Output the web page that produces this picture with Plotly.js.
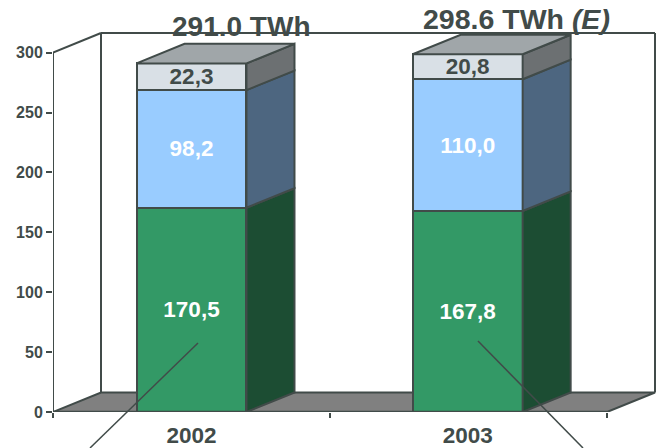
<!DOCTYPE html>
<html>
<head>
<meta charset="utf-8">
<script src="https://cdn.plot.ly/plotly-3.0.1.min.js"></script>
<style>html,body{margin:0;padding:0;background:#fff}#chart{width:660px;height:448px}</style>
</head>
<body>
<div id="chart"></div>
<script>
// Annual generation by source, stacked, in TWh
const years = ['2002', '2003'];
const bottomSeries = [170.5, 167.8];
const middleSeries = [98.2, 110.0];
const topSeries = [22.3, 20.8];
const totals = ['291.0 TWh', '298.6 TWh <i>(E)</i>'];
const yTicks = [0, 50, 100, 150, 200, 250, 300];

const INK = '#414b49';
const FONT = '"Liberation Sans", Arial, sans-serif';
const centers = [0.5, 1.497];
const BAR_W = 0.397;
const DX = 0.1733;   // depth of the pseudo-3D extrusion, x units
const DY = 16.3;     // depth of the pseudo-3D extrusion, y units
const PLOT_W = 604, PLOT_H = 381, PX_X = 277, PX_Y = 1.198, BASE_PX = 412;
const X_MAX = PLOT_W / PX_X, Y_MAX = PLOT_H / PX_Y, Y_TOP = 316.4;

const layers = [
  {values: bottomSeries, front: '#339966', side: '#1c4d33', text: '#ffffff'},
  {values: middleSeries, front: '#99ccff', side: '#4d6680', text: '#ffffff'},
  {values: topSeries,    front: '#d9e0e6', side: '#6c7072', text: INK}
];

const traces = [];

// Front faces of the stacks
layers.forEach(l => traces.push({
  type: 'bar', x: centers, y: l.values, width: BAR_W,
  marker: {color: l.front, line: {color: INK, width: 2}},
  text: l.values.map(v => v.toFixed(1).replace('.', ',')),
  textposition: 'inside', insidetextanchor: 'middle', textangle: 0,
  constraintext: 'none',
  insidetextfont: {family: FONT, size: 22.5, weight: 700, color: l.text},
  hoverinfo: 'skip'
}));

// Side and top faces, extruded from the stacked values
centers.forEach((c, i) => {
  const r = c + BAR_W / 2, lft = c - BAR_W / 2;
  let base = 0;
  layers.forEach(l => {
    const top = base + l.values[i];
    traces.push({
      type: 'scatter', mode: 'lines', fill: 'toself', fillcolor: l.side,
      x: [r, r + DX, r + DX, r, r],
      y: [base, base + DY, top + DY, top, base],
      line: {color: INK, width: 2}, hoverinfo: 'skip'
    });
    base = top;
  });
  traces.push({
    type: 'scatter', mode: 'lines', fill: 'toself', fillcolor: '#a0a6a9',
    x: [lft, lft + DX, r + DX, r, lft],
    y: [base, base + DY, base + DY, base, base],
    line: {color: INK, width: 2}, hoverinfo: 'skip'
  });
});

// Axis lines stop at the front plane, so they are drawn as traces
traces.push({type: 'scatter', mode: 'lines', x: [0, 0], y: [0, 300],
  line: {color: INK, width: 2}, hoverinfo: 'skip'});
traces.push({type: 'scatter', mode: 'lines', x: [0, 2], y: [0, 0],
  line: {color: INK, width: 2.5}, hoverinfo: 'skip', cliponaxis: false});

const edge = (x0, y0, x1, y1) => ({type: 'line', xref: 'x', yref: 'y', layer: 'below',
  x0, y0, x1, y1, line: {color: INK, width: 2}});

const paperX = px => (px - 53) / PLOT_W;
const paperY = py => (BASE_PX - py) / PLOT_H;

const shapes = [
  // Floor
  {type: 'path', xref: 'x', yref: 'y', layer: 'below', fillcolor: '#808080',
   path: `M0,0 L2,0 L${2 + DX},${DY} L${DX},${DY} Z`, line: {color: INK, width: 2}},
  // Back and side walls
  edge(DX, DY, DX, Y_TOP), edge(DX, Y_TOP, 2 + DX, Y_TOP), edge(2 + DX, Y_TOP, 2 + DX, DY),
  edge(0, 300, DX, Y_TOP),
  // Leader lines
  {type: 'line', xref: 'paper', yref: 'paper', x0: paperX(198), y0: paperY(343),
   x1: paperX(90), y1: paperY(448), line: {color: INK, width: 1.5}},
  {type: 'line', xref: 'paper', yref: 'paper', x0: paperX(478), y0: paperY(341),
   x1: paperX(583), y1: paperY(448), line: {color: INK, width: 1.5}}
];

const totalLabel = (text, xPx, yPx, size) => ({
  text, xref: 'paper', yref: 'paper', x: paperX(xPx), y: paperY(yPx), showarrow: false,
  xanchor: 'center', yanchor: 'middle',
  font: {family: FONT, size, weight: 700, color: INK}
});

const layout = {
  width: 660, height: 448, autosize: false,
  margin: {l: 53, r: 3, t: 31, b: 36, pad: 0},
  paper_bgcolor: '#ffffff', plot_bgcolor: '#ffffff',
  showlegend: false, barmode: 'stack',
  xaxis: {
    range: [0, X_MAX], showgrid: false, zeroline: false, showline: false,
    tickmode: 'array', tickvals: centers, ticktext: years, ticks: '',
    ticklabelstandoff: 7,
    tickfont: {family: FONT, size: 22.5, weight: 700, color: INK},
    minor: {tickmode: 'array', tickvals: [0, 1, 2], ticks: 'outside', ticklen: 5, tickwidth: 1.5, tickcolor: INK, showgrid: false}
  },
  yaxis: {
    range: [0, Y_MAX], showgrid: false, zeroline: false, showline: false,
    tickmode: 'array', tickvals: yTicks, ticks: 'outside', ticklen: 6, tickwidth: 2, tickcolor: INK,
    tickfont: {family: FONT, size: 16, weight: 700, color: INK}
  },
  shapes,
  annotations: [
    totalLabel(totals[0], 240.5, 27, 28),
    totalLabel(totals[1], 516, 19, 28.5)
  ]
};

Plotly.newPlot('chart', traces, layout, {displayModeBar: false, staticPlot: true});
</script>
</body>
</html>
